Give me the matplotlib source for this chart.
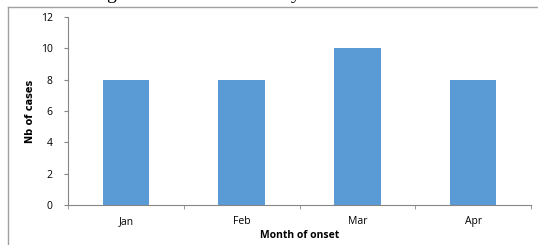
import matplotlib.pyplot as plt
import numpy as np
from matplotlib.lines import Line2D

months = ['Jan', 'Feb', 'Mar', 'Apr']
cases = [8, 8, 10, 8]
y_ticks = [0, 2, 4, 6, 8, 10, 12]

fig = plt.figure(figsize=(5.38, 2.45), dpi=100)
ax = fig.add_axes([68 / 538, 1 - 205 / 245, 463 / 538, 188 / 245])

x = np.arange(len(months))
ax.bar(x, cases, width=0.4, color='#5B9BD5')

ax.set_xlim(-0.5, len(months) - 0.5)
ax.set_ylim(0, 12)
ax.set_yticks(y_ticks)
ax.set_xticks(x)
ax.set_xticklabels(months)
ax.set_xticks(np.arange(len(months) + 1) - 0.5, minor=True)

axis_gray = '#868686'
for side in ['top', 'right']:
    ax.spines[side].set_visible(False)
for side in ['left', 'bottom']:
    ax.spines[side].set_color(axis_gray)
    ax.spines[side].set_linewidth(0.8)

ax.tick_params(axis='x', which='major', length=0, pad=8, labelsize=7.5)
ax.tick_params(axis='x', which='minor', length=3, color=axis_gray, direction='out')
ax.tick_params(axis='y', length=3, color=axis_gray, pad=8, labelsize=7.5)
for lbl in ax.get_xticklabels() + ax.get_yticklabels():
    lbl.set_family('Open Sans')

ax.set_xlabel('Month of onset', fontsize=7.5, fontweight='bold', family='Open Sans', labelpad=2)
ax.set_ylabel('Nb of cases', fontsize=7, fontweight='bold',
              family=['Liberation Sans Narrow', 'DejaVu Sans'], labelpad=4)

# page border around the chart
fig.add_artist(Line2D([8 / 538, 1], [1 - 7 / 245, 1 - 7 / 245], color='#a0a0a0', lw=1))
fig.add_artist(Line2D([8 / 538, 8 / 538], [0, 1 - 7 / 245], color='#a0a0a0', lw=1))

# descenders of the cut-off caption line above
fig.text(111 / 538, 1 + 1 / 245, 'g', family='Liberation Serif', fontsize=14, ha='center', va='baseline')
fig.text(296 / 538, 1 + 1 / 245, 'y', family='Liberation Serif', fontsize=14, ha='center', va='baseline')

fig.savefig('out.png', dpi=100)
